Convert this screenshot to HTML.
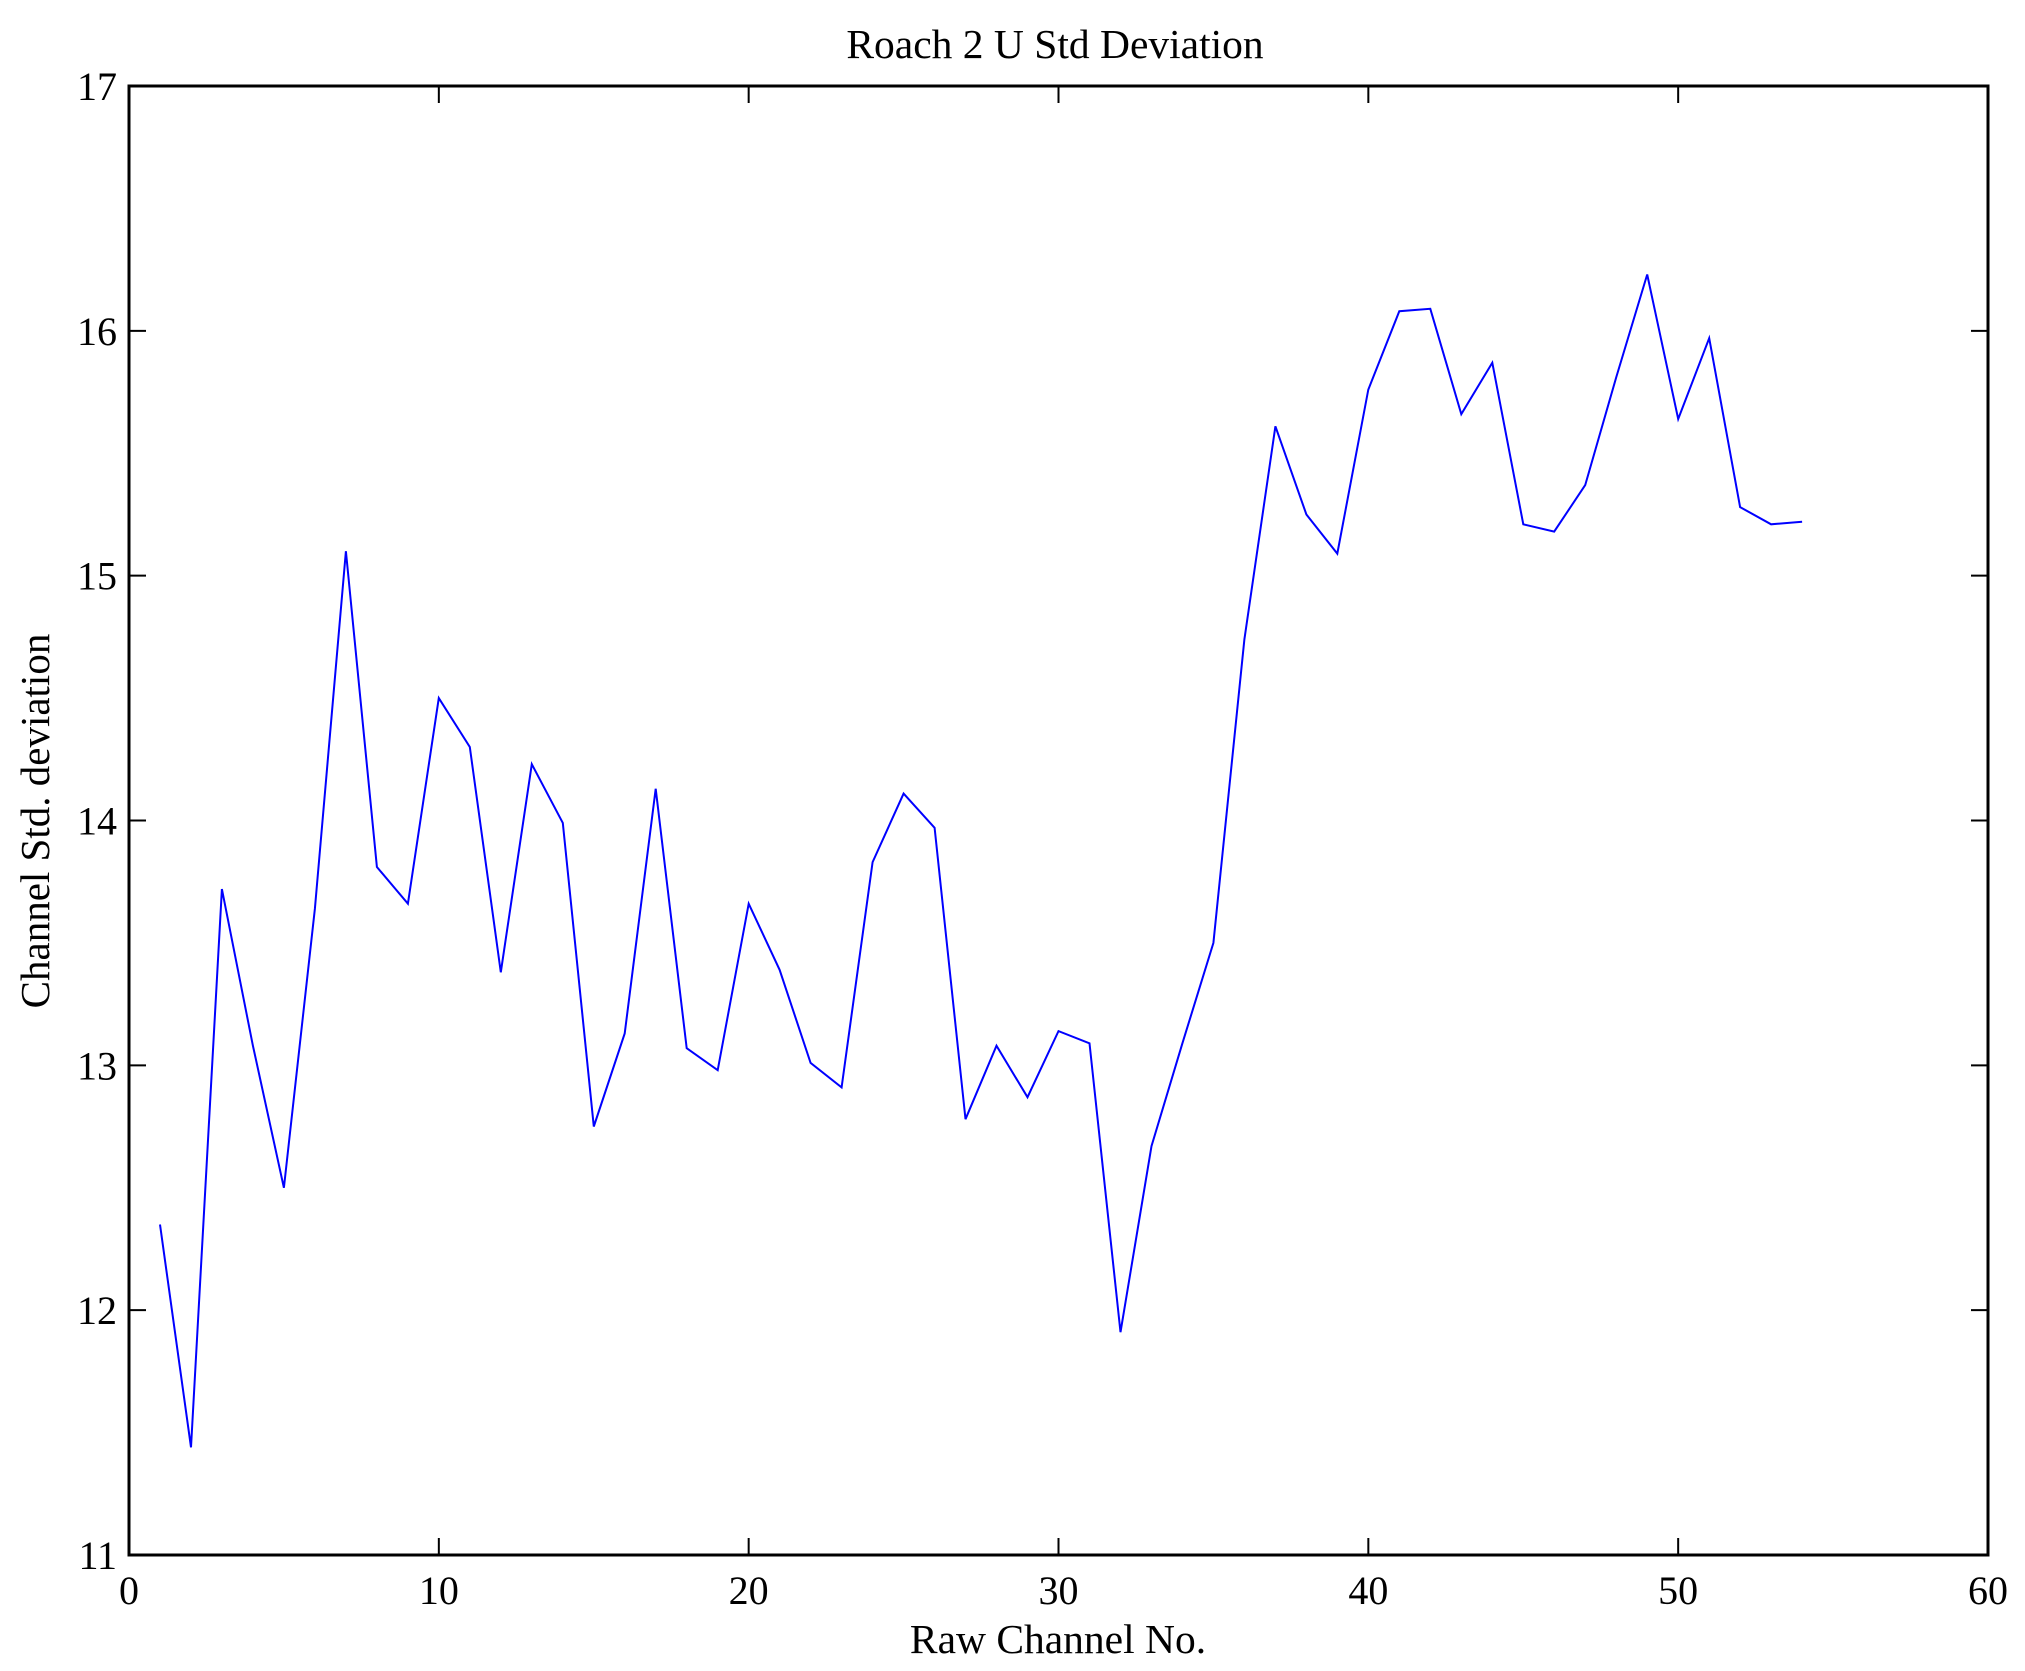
<!DOCTYPE html>
<html><head><meta charset="utf-8"><style>html,body{margin:0;padding:0;background:#fff}svg{display:block}</style></head>
<body>
<svg id="s" xmlns="http://www.w3.org/2000/svg" width="2025" height="1671" viewBox="0 0 2025 1671" font-family="'Liberation Serif', serif">
<rect width="2025" height="1671" fill="#fff"/>
<g id="ticks" stroke="#000" stroke-width="2"></g>
<polyline id="line" fill="none" stroke="#0000ff" stroke-width="2"/>
<rect x="129" y="86" width="1859" height="1469" fill="none" stroke="#000" stroke-width="3"/>
<g id="labels" font-size="40" fill="#000"></g>
<text x="1055" y="58" font-size="41.5" text-anchor="middle">Roach 2 U Std Deviation</text>
<text x="1058" y="1653" font-size="41.5" text-anchor="middle">Raw Channel No.</text>
<text transform="translate(49,821) rotate(-90)" font-size="41" text-anchor="middle">Channel Std. deviation</text>
</svg>
<script>
var v=[12.35,11.44,13.72,13.08,12.50,13.64,15.10,13.81,13.66,14.50,14.30,13.38,14.23,13.99,12.75,13.13,14.13,13.07,12.98,13.66,13.39,13.01,12.91,13.83,14.11,13.97,12.78,13.08,12.87,13.14,13.09,11.91,12.67,13.09,13.50,14.74,15.61,15.25,15.09,15.76,16.08,16.09,15.66,15.87,15.21,15.18,15.37,15.81,16.23,15.64,15.97,15.28,15.21,15.22];
var L=129,R=1988,T=86,B=1555,ns="http://www.w3.org/2000/svg";
function X(n){return L+n*(R-L)/60}function Y(y){return B-(y-11)*(B-T)/6}
document.getElementById('line').setAttribute('points',v.map(function(y,i){return X(i+1).toFixed(1)+','+Y(y).toFixed(1)}).join(' '));
var tk=document.getElementById('ticks'),lb=document.getElementById('labels');
function ln(a,b,c,d){var e=document.createElementNS(ns,'line');e.setAttribute('x1',a);e.setAttribute('y1',b);e.setAttribute('x2',c);e.setAttribute('y2',d);tk.appendChild(e)}
function tx(s,x,y,anc){var e=document.createElementNS(ns,'text');e.setAttribute('x',x);e.setAttribute('y',y);e.setAttribute('text-anchor',anc);e.textContent=s;lb.appendChild(e)}
for(var n=0;n<=60;n+=10){var x=X(n);ln(x,B,x,B-17);ln(x,T,x,T+17);tx(String(n),x,1604,'middle')}
for(var y=11;y<=17;y++){var yy=Y(y);ln(L,yy,L+17,yy);ln(R,yy,R-17,yy);tx(String(y),117,yy+14,'end')}
</script>
</body></html>
